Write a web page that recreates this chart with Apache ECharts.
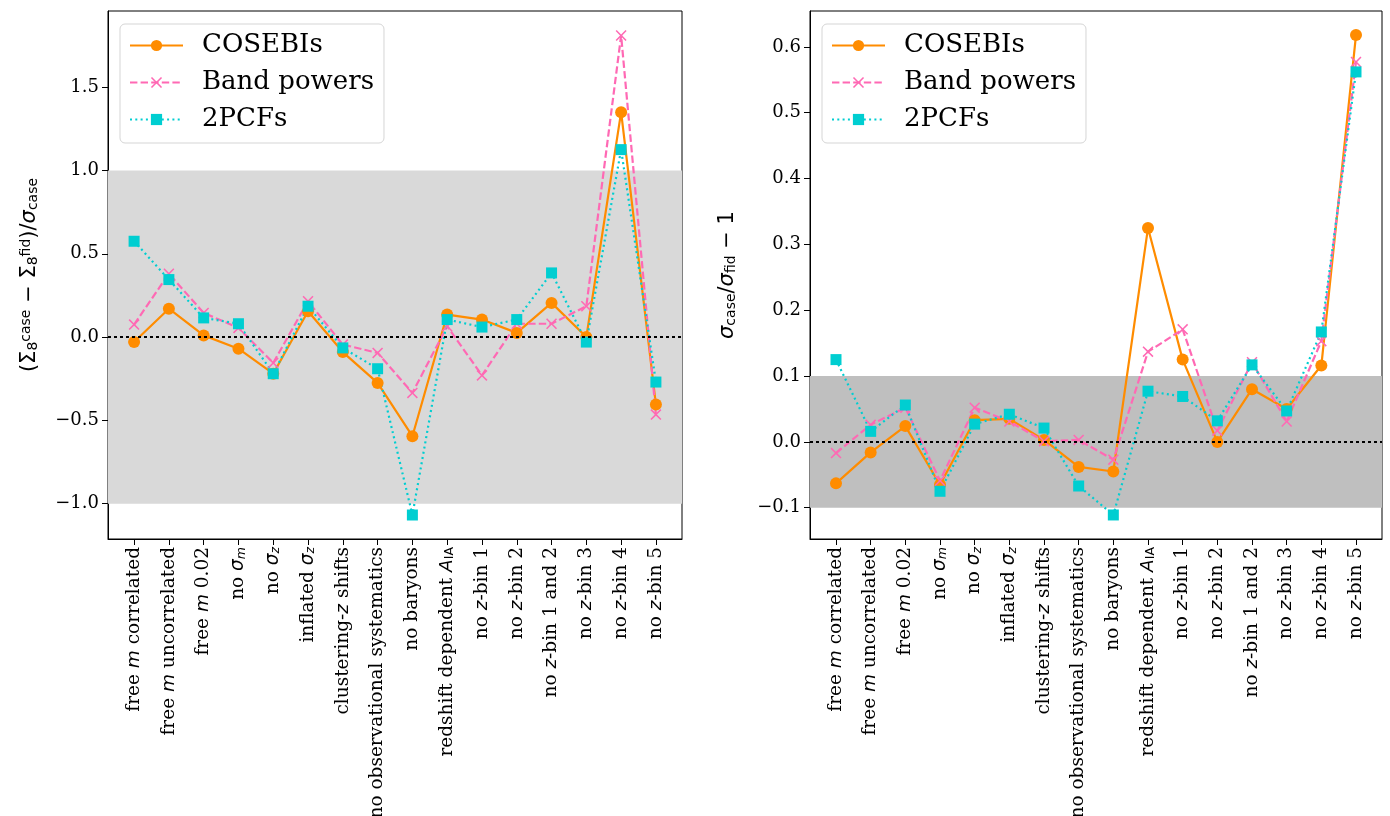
<!DOCTYPE html>
<html>
<head>
<meta charset="utf-8">
<script src="https://cdn.jsdelivr.net/npm/echarts@6/dist/echarts.min.js"></script>
<style>html,body{margin:0;padding:0;background:#fff;}#c{width:1390px;height:816px;}</style>
</head>
<body>
<div id="c"></div>
<script>
// Category labels (rich-text markup for math parts)
const categories = [
  "free {m|m} correlated",
  "free {m|m} uncorrelated",
  "free {m|m} 0.02",
  "no {m|σ}{s|m}",
  "no {m|σ}{s|z}",
  "inflated {m|σ}{s|z}",
  "clustering-{m|z} shifts",
  "no observational systematics",
  "no baryons",
  "redshift dependent {m|A}{su|IA}",
  "no {m|z}-bin 1",
  "no {m|z}-bin 2",
  "no {m|z}-bin 1 and 2",
  "no {m|z}-bin 3",
  "no {m|z}-bin 4",
  "no {m|z}-bin 5"
];
const seriesNames = ["COSEBIs", "Band powers", "2PCFs"];

// Left panel: (S8case - S8fid)/sigma_case
const leftCosebis = [-0.03, 0.17, 0.01, -0.07, -0.22, 0.155, -0.09, -0.275, -0.595, 0.135, 0.105, 0.025, 0.205, 0.0, 1.35, -0.405];
const leftBandpowers = [0.075, 0.38, 0.145, 0.055, -0.155, 0.215, -0.045, -0.095, -0.335, 0.065, -0.23, 0.08, 0.08, 0.185, 1.81, -0.465];
const left2pcf = [0.575, 0.345, 0.115, 0.08, -0.22, 0.185, -0.065, -0.19, -1.068, 0.105, 0.06, 0.105, 0.385, -0.03, 1.125, -0.27];

// Right panel: sigma_case/sigma_fid - 1
const rightCosebis = [-0.063, -0.016, 0.024, -0.065, 0.033, 0.035, 0.003, -0.038, -0.045, 0.325, 0.125, 0.0, 0.08, 0.05, 0.116, 0.618];
const rightBandpowers = [-0.017, 0.026, 0.052, -0.059, 0.052, 0.031, 0.001, 0.003, -0.027, 0.137, 0.171, 0.017, 0.121, 0.031, 0.153, 0.577];
const right2pcf = [0.125, 0.016, 0.056, -0.075, 0.027, 0.042, 0.021, -0.067, -0.111, 0.077, 0.069, 0.032, 0.117, 0.047, 0.167, 0.562];

const leftTicks = [-1.0, -0.5, 0.0, 0.5, 1.0, 1.5];
const rightTicks = [-0.1, 0.0, 0.1, 0.2, 0.3, 0.4, 0.5, 0.6];
const leftBand = [-1, 1];
const rightBand = [-0.1, 0.1];

const ORANGE = '#ff8c00', PINK = '#ff69b4', CYAN = '#00ced1';
const XPATH = 'path://M0,1 L1,0 L5,4 L9,0 L10,1 L6,5 L10,9 L9,10 L5,6 L1,10 L0,9 L4,5 Z';
const catIdx = categories.map((_, i) => i);

function pairs(arr) { return arr.map((v, i) => [i, v]); }
function fmtNum(v) { const s = Math.abs(v).toFixed(1); return (v < -1e-9 ? '\u2212' : '') + s; }

const labelRich = {
  m: { fontFamily: 'DejaVu Sans', fontStyle: 'italic', fontSize: 18.5, color: '#000' },
  s: { fontFamily: 'DejaVu Sans', fontStyle: 'italic', fontSize: 12.5, color: '#000', verticalAlign: 'bottom', lineHeight: 14 },
  su: { fontFamily: 'DejaVu Sans', fontSize: 12.5, color: '#000', verticalAlign: 'bottom', lineHeight: 14 }
};

function xAxisFor(gi) {
  return {
    type: 'value', gridIndex: gi, min: -0.75, max: 15.75,
    splitLine: { show: false },
    axisLine: { show: true, onZero: false, lineStyle: { color: '#000', width: 1 } },
    axisTick: { show: true, customValues: catIdx, length: 6, lineStyle: { color: '#000', width: 1 } },
    axisLabel: {
      customValues: catIdx, rotate: 90, margin: 8,
      fontFamily: 'DejaVu Serif', fontSize: 18.5, color: '#000',
      formatter: v => categories[Math.round(v)] || '',
      rich: labelRich
    }
  };
}

function yAxisFor(gi, ticks, min, max, name, nameGap, rich) {
  return {
    type: 'value', gridIndex: gi, min: min, max: max,
    splitLine: { show: false },
    axisLine: { show: true, onZero: false, lineStyle: { color: '#000', width: 1 } },
    axisTick: { show: true, customValues: ticks, length: 6, lineStyle: { color: '#000', width: 1 } },
    axisLabel: { customValues: ticks, margin: 9, fontFamily: 'DejaVu Serif', fontSize: 18, color: '#000', formatter: fmtNum },
    name: name, nameLocation: 'middle', nameGap: nameGap, nameRotate: 90,
    nameTextStyle: { fontFamily: 'DejaVu Sans', fontSize: 21, color: '#000', rich: rich }
  };
}

const nameRich = {
  n: { fontFamily: 'DejaVu Sans', fontSize: 21, color: '#000' },
  g: { fontFamily: 'DejaVu Sans', fontStyle: 'italic', fontSize: 21, color: '#000' },
  sb: { fontFamily: 'DejaVu Sans', fontSize: 14, color: '#000', verticalAlign: 'bottom', lineHeight: 18 },
  sp: { fontFamily: 'DejaVu Sans', fontSize: 14, color: '#000', verticalAlign: 'top', lineHeight: 14 }
};

function bgSeries(xi, yi, band, color) {
  return {
    type: 'line', xAxisIndex: xi, yAxisIndex: yi, data: [], silent: true, z: 1,
    markArea: { silent: true, itemStyle: { color: color }, data: [[{ yAxis: band[0] }, { yAxis: band[1] }]] },
    markLine: { silent: true, symbol: 'none', label: { show: false },
      lineStyle: { color: '#000', type: [3, 3], width: 2 }, data: [{ yAxis: 0 }] }
  };
}

function dataSeries(xi, yi, arr, k) {
  const styles = [
    { color: ORANGE, symbol: 'circle', size: 12, type: 'solid' },
    { color: PINK, symbol: XPATH, size: 11, type: [7.4, 3.2] },
    { color: CYAN, symbol: 'rect', size: 11, type: [2, 3.3] }
  ][k];
  return {
    name: seriesNames[k], type: 'line', xAxisIndex: xi, yAxisIndex: yi, z: 3,
    data: pairs(arr), symbol: styles.symbol, symbolSize: styles.size, showAllSymbol: true,
    lineStyle: { color: styles.color, width: 2.2, type: styles.type },
    itemStyle: { color: styles.color },
    emphasis: { disabled: true }, animation: false
  };
}

function legendFor(left) {
  return {
    left: left, top: 24, orient: 'vertical', data: seriesNames,
    itemWidth: 53, itemHeight: 14, itemGap: 10,
    padding: [8, 10, 10, 9],
    backgroundColor: 'rgba(255,255,255,0.85)', borderColor: '#d5d5d5', borderWidth: 1, borderRadius: 5,
    textStyle: { fontFamily: 'DejaVu Serif', fontSize: 26, color: '#000', lineHeight: 27, padding: [0, 0, 0, 14] },
    selectedMode: false
  };
}

const chart = echarts.init(document.getElementById('c'), null, { renderer: 'canvas' });
chart.setOption({
  animation: false,
  backgroundColor: '#fff',
  grid: [
    { left: 108, top: 11, width: 574, height: 528, outerBoundsMode: 'none', containLabel: false, show: true, borderColor: '#000', borderWidth: 1, backgroundColor: 'transparent' },
    { left: 810, top: 11, width: 572, height: 528, outerBoundsMode: 'none', containLabel: false, show: true, borderColor: '#000', borderWidth: 1, backgroundColor: 'transparent' }
  ],
  legend: [legendFor(120), legendFor(822)],
  xAxis: [xAxisFor(0), xAxisFor(1)],
  yAxis: [
    yAxisFor(0, leftTicks, -1.212, 1.957,
      '{n|(Σ}{sb|8}{sp|case}{n| − Σ}{sb|8}{sp|fid}{n|)/}{g|σ}{sb|case}', 68, nameRich),
    yAxisFor(1, rightTicks, -0.1475, 0.6545,
      '{g|σ}{sb|case}{n|/}{g|σ}{sb|fid}{n| − 1}', 72, nameRich)
  ],
  series: [
    bgSeries(0, 0, leftBand, '#d9d9d9'),
    bgSeries(1, 1, rightBand, '#bfbfbf'),
    dataSeries(0, 0, leftCosebis, 0),
    dataSeries(0, 0, leftBandpowers, 1),
    dataSeries(0, 0, left2pcf, 2),
    dataSeries(1, 1, rightCosebis, 0),
    dataSeries(1, 1, rightBandpowers, 1),
    dataSeries(1, 1, right2pcf, 2)
  ]
});
</script>
</body>
</html>
